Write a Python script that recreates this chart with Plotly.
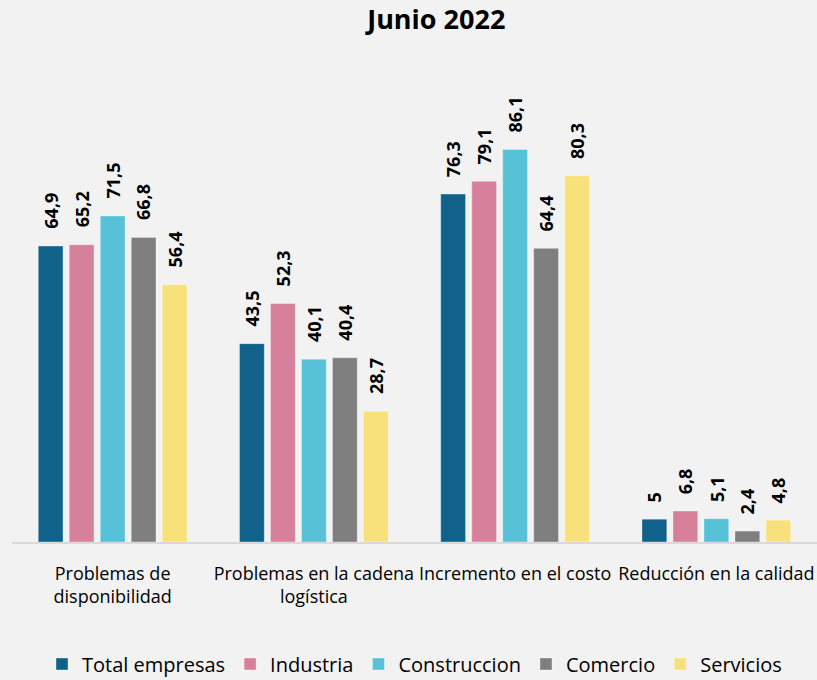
import plotly.graph_objects as go

categories = ["Problemas de<br>disponibilidad", "Problemas en la cadena<br>logística",
              "Incremento en el costo", "Reducción en la calidad"]
series_names = ["Total empresas", "Industria", "Construccion", "Comercio", "Servicios"]
total_empresas = [64.9, 43.5, 76.3, 5]
industria = [65.2, 52.3, 79.1, 6.8]
construccion = [71.5, 40.1, 86.1, 5.1]
comercio = [66.8, 40.4, 64.4, 2.4]
servicios = [56.4, 28.7, 80.3, 4.8]
labels = [
    ["64,9", "43,5", "76,3", "5"],
    ["65,2", "52,3", "79,1", "6,8"],
    ["71,5", "40,1", "86,1", "5,1"],
    ["66,8", "40,4", "64,4", "2,4"],
    ["56,4", "28,7", "80,3", "4,8"],
]
colors = ["#10628a", "#d6809c", "#56c1d7", "#7f7f7f", "#f8e07b"]

series = [total_empresas, industria, construccion, comercio, servicios]

fig = go.Figure()
for name, vals, col in zip(series_names, series, colors):
    fig.add_trace(go.Bar(
        x=categories, y=vals, name=name,
        marker=dict(color=col, line=dict(color="rgba(255,255,255,0.35)", width=1)),
    ))

pitch = 31
for i, (vals, labs) in enumerate(zip(series, labels)):
    off = (i - 2) * pitch
    for c, v, t in zip(categories, vals, labs):
        fig.add_annotation(
            x=c, y=v, xref="x", yref="y", text=f"<b>{t}</b>",
            textangle=-90, showarrow=False, xshift=off, yshift=15,
            xanchor="center", yanchor="bottom",
            font=dict(family="Open Sans", size=18, color="#000000"),
        )

fig.update_layout(
    width=817, height=680,
    paper_bgcolor="#f2f2f2", plot_bgcolor="#f2f2f2",
    margin=dict(l=12, r=0, t=86, b=138, autoexpand=False),
    title=dict(text="<b>Junio 2022</b>", x=0.534, xanchor="center", y=0.971, yanchor="middle",
               font=dict(family="Open Sans", size=27, color="#000000")),
    barmode="group", bargap=0.23, bargroupgap=0.2,
    showlegend=True,
    legend=dict(orientation="h", x=0.5, xanchor="center", y=-0.2675, yanchor="middle",
                font=dict(family="Open Sans", size=20, color="#000000"),
                itemwidth=30, traceorder="normal"),
    font=dict(family="Open Sans", color="#000000"),
)
fig.update_xaxes(showline=True, linecolor="#d9d9d9", linewidth=2, ticks="",
                 tickfont=dict(family="Open Sans", size=18, color="#000000"),
                 ticklabelstandoff=14, showgrid=False, automargin=False)
fig.update_yaxes(range=[0, 100], visible=False, showgrid=False, zeroline=False, automargin=False)

fig.write_html("out.html", config={"displayModeBar": False},
               post_script="document.body.style.margin='0';document.body.style.background='#f2f2f2';")
